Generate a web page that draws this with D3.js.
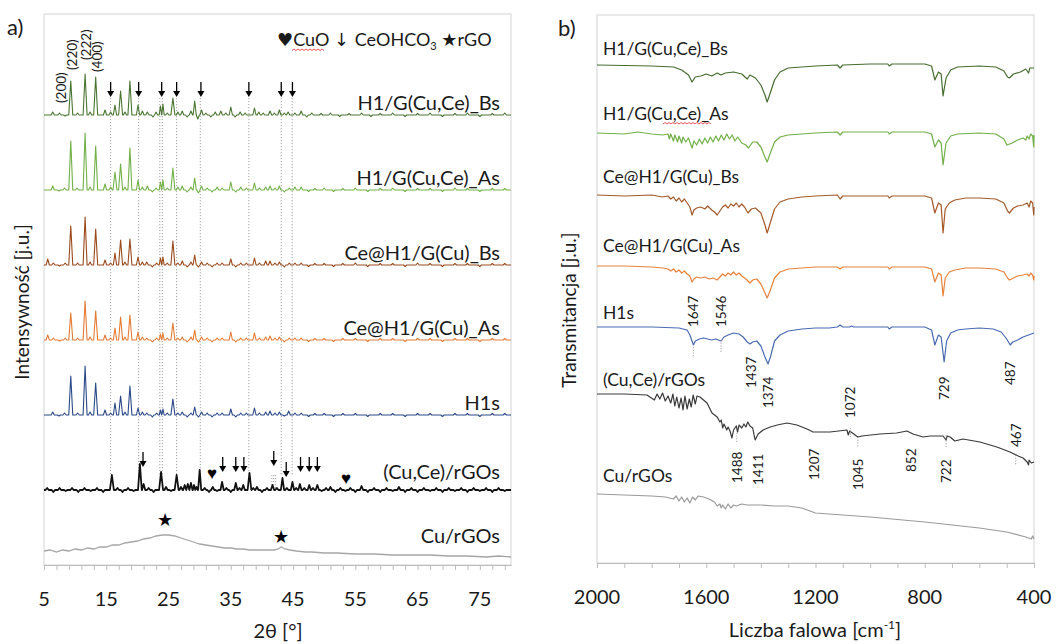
<!DOCTYPE html>
<html><head><meta charset="utf-8">
<script src="https://cdn.jsdelivr.net/npm/d3@7"></script>
<style>body{margin:0;background:#fff;} text{font-family:Lato,"Open Sans",sans-serif;fill:#1a1a1a;}</style>
</head><body><svg id="c" width="1058" height="644"></svg>
<script>
// ---------------- DATA ----------------
const seriesNames = ["H1/G(Cu,Ce)_Bs","H1/G(Cu,Ce)_As","Ce@H1/G(Cu)_Bs","Ce@H1/G(Cu)_As","H1s","(Cu,Ce)/rGOs","Cu/rGOs"];
const xrdColors = ["#4a7632","#72b048","#9b4a1c","#e47c36","#2b4989","#111111","#a6a6a6"];
const ftirColors = ["#466d2f","#72b048","#a55a2a","#e8823c","#4a6bb3","#3a3a3a","#9a9a9a"];
const xrdOffsets = [450,375,300,225,150,75,0];
const ftirOffsets = [498,430,368,297,236,169,69];

// XRD peaks [2theta, intensity above baseline]
const xrdBs = [[6.4,3],[7.5,2],[8.4,-1],[9.3,34],[10.4,2],[11.6,41],[12.4,3],[13.3,38],[14.8,5],[15.7,3],[16.4,10],[17.3,24],[18.0,3],[18.8,34],[20.1,10],[20.8,4],[21.6,3],[22.5,-2],[23.0,3],[23.7,9],[24.1,11],[24.8,2],[25.7,17],[26.5,3],[27.2,4],[28.0,-2],[28.6,4],[29.2,14],[29.7,-4],[30.3,5],[31.0,2],[31.8,-2],[32.5,3],[33.4,4],[34.2,2],[35.0,8],[35.7,-2],[36.5,3],[37.3,2],[38.8,7],[39.5,3],[40.2,2],[41.3,4],[42.0,2],[42.8,5],[43.6,2],[44.2,3],[45.3,2],[46.3,4],[47.2,-2],[48.0,2],[49.5,1.5],[51,2],[52.5,-1.5],[54,1.5],[56,2],[57.5,-1.5],[59,1.5],[61,2],[63,-1.5],[65,1.5],[67,2],[69,-1.5],[71,1.5],[73,2],[75,-1.5],[77,1.5],[79,2]];
const xrdAs = [[6.4,4],[7.4,-1],[8.3,2],[9.3,49],[10.3,2],[11.6,57],[12.4,3],[13.3,44],[14.8,6],[15.7,3],[16.4,18],[17.3,26],[18.0,3],[18.8,42],[20.1,10],[20.8,3],[21.6,4],[22.4,-2],[23.0,2],[23.7,8],[24.1,10],[24.8,2],[25.7,22],[26.5,3],[27.2,4],[28.0,-2],[28.6,3],[29.2,12],[29.8,-3],[30.3,4],[31.2,2],[32.0,-2],[32.8,3],[33.6,2],[35.0,8],[35.8,-2],[36.6,3],[37.5,2],[38.8,7],[39.6,2],[40.6,3],[41.3,4],[42.1,2],[42.8,4],[43.6,-2],[44.4,2],[45.3,3],[46.3,3],[47.5,-1.5],[48.5,1.5],[50,2],[51.5,-1.5],[53,1.5],[55,2],[57,-1.5],[59,1.5],[61,2],[63,-1.5],[65,1.5],[67,1.5],[69,-1.5],[71,2],[73,1.5],[75,-1.5],[77,1.5],[79,1.5]];
const xrdCeBs = [[5.6,6],[6.5,2],[7.5,-1],[8.4,2],[9.3,39],[10.4,2],[11.6,48],[12.4,3],[13.3,36],[14.8,5],[15.7,2],[16.4,12],[17.3,25],[18.0,3],[18.8,26],[20.1,8],[20.8,3],[21.5,3],[22.4,-2],[23.1,2],[23.7,7],[24.1,8],[24.8,2],[25.7,24],[26.5,2],[27.2,4],[28.0,-2],[28.6,3],[29.2,10],[29.8,-2],[30.3,3],[31.2,2],[32.0,-2],[32.8,2],[33.6,2],[35.0,6],[35.8,-2],[36.6,2],[37.5,2],[38.8,7],[39.6,2],[40.6,4],[41.3,4],[42.1,2],[42.8,3],[43.6,-2],[44.4,2],[45.3,2],[46.3,2],[47.5,-1.5],[48.5,1.5],[50,1.5],[51.5,-1.5],[53,1.5],[55,2],[57,-1.5],[59,1.5],[61,1.5],[63,-1.5],[65,2],[67,1.5],[69,-1.5],[71,1.5],[73,1.5],[75,-1.5],[77,1.5],[79,1.5]];
const xrdCeAs = [[5.6,5],[6.5,2],[7.5,-1],[8.4,2],[9.3,27],[10.4,2],[11.6,39],[12.4,3],[13.3,29],[14.8,5],[15.7,2],[16.4,12],[17.3,23],[18.0,3],[18.8,25],[20.1,8],[20.8,3],[21.5,2],[22.4,-2],[23.1,2],[23.7,6],[24.1,7],[24.8,2],[25.7,17],[26.5,2],[27.2,3],[28.0,-2],[28.6,3],[29.2,10],[29.8,-2],[30.3,3],[31.2,2],[32.0,-2],[32.8,2],[33.6,2],[35.0,8],[35.8,-2],[36.6,2],[37.5,2],[38.8,7],[39.6,2],[40.6,3],[41.3,4],[42.1,2],[42.8,3],[43.6,-2],[44.4,2],[45.3,2],[46.3,2],[47.5,-1.5],[48.5,1.5],[50,1.5],[51.5,-1.5],[53,1.5],[55,1.5],[57,-1.5],[59,1.5],[61,1.5],[63,-1.5],[65,1.5],[67,1.5],[69,-1.5],[71,1.5],[73,1.5],[75,-1.5],[77,1.5],[79,1.5]];
const xrdH1s = [[6.4,3],[7.4,-1],[8.3,2],[9.3,39],[10.4,2],[11.6,49],[12.4,3],[13.3,32],[14.8,5],[15.7,2],[16.4,12],[17.3,19],[18.0,3],[18.8,29],[20.1,7],[20.8,3],[21.5,2],[22.4,-2],[23.1,2],[23.7,5],[24.1,6],[24.8,2],[25.7,16],[26.5,2],[27.2,3],[28.0,-2],[28.6,2],[29.2,8],[29.8,-2],[30.3,3],[31.2,2],[32.0,-2],[32.8,2],[33.6,2],[35.0,6],[35.8,-2],[36.6,2],[37.5,2],[38.8,7],[39.6,2],[40.6,3],[41.3,4],[42.1,2],[42.8,3],[43.6,-1],[44.3,4],[45.3,2],[46.3,2],[47.5,-1.5],[48.5,1.5],[50,1.5],[51.5,-1.5],[53,1.5],[55,1.5],[57,-1.5],[59,1.5],[61,1.5],[63,-1.5],[65,1.5],[67,1.5],[69,-1.5],[71,1.5],[73,1.5],[75,-1.5],[77,1.5],[79,1.5]];
const xrdCuCe = [[5.5,2],[6.5,-2],[7.5,2],[8.5,-1],[9.5,2],[10.5,-2],[11.5,2],[12.5,-1],[13.5,2],[14.5,-2],[15.9,15],[16.8,2],[17.6,-2],[18.5,2],[19.4,-1],[20.4,26],[21.0,6],[21.8,2],[22.6,-2],[23.8,18],[24.6,3],[25.4,-1],[26.3,15],[27.0,3],[27.6,5],[28.1,6],[28.6,7],[29.1,5],[29.5,3],[30.0,20],[30.8,2],[31.5,-2],[32.1,3],[32.8,-1],[33.6,8],[34.3,2],[35.0,-2],[35.8,7],[36.4,2],[37.0,5],[38.0,17],[38.6,2],[39.2,3],[40.0,-2],[40.8,2],[41.7,5],[42.4,2],[43.3,12],[44.0,2],[44.9,8],[45.5,2],[46.1,6],[46.8,2],[47.6,5],[48.2,2],[48.9,5],[49.6,-1],[50.3,2],[51.0,3],[51.8,-2],[52.6,2],[53.4,-1],[54.2,2],[55.0,-2],[56.0,4],[57,-2],[58,2],[59,-2],[60,2],[61,-1],[62,3],[63,-2],[64,2],[65,-2],[66,2],[67,-1],[68,2],[69,-2],[70,2],[71,-1],[72,2],[73,-2],[74,2],[75,-1],[76,2],[77,-2],[78,2],[79,-1]];
// Cu/rGOs: full profile [2theta, intensity]
const xrdCuRGO = [[5,14],[6,15],[7,13],[8,15],[9,14],[10,16],[11,15],[12,17],[13,16],[14,18],[15,18],[16,20],[17,20],[18,22],[19,23],[20,24],[21,26],[22,27],[23,29],[24,30],[25,30],[26,29],[27,27],[28,25],[29,23],[30,21],[31,20],[32,19],[33,18],[34,17],[35,17],[36,16],[37,16],[38,15],[39,15],[40,15],[41,15],[42,15],[42.6,16],[43.1,18],[43.7,16],[44.5,15],[45.5,14],[47,13],[48,13],[50,12],[52,12],[55,11],[58,11],[61,10],[64,10],[67,10],[70,9],[73,9],[76,8],[78,9],[80,8]];

const xrdTicks = [5,15,25,35,45,55,65,75];
const millerLabels = [["(200)",7.7,462],["(220)",9.5,495],["(222)",11.7,505],["(400)",13.5,493]];
const arrowsTop = [15.7,20.2,23.9,26.3,30.2,37.9,43.1,44.9];
const arrowsCuCe = [[20.9,98],[33.7,93],[35.8,93],[37.1,93],[41.9,99],[43.9,88],[46.2,93],[47.6,93],[48.9,93]];
const heartsCuO = [[32.0,93],[53.5,88]];
const starsRGO = [[24.5,46],[43.0,29]];
const refLines = [15.7,20.2,23.6,24.0,26.3,30.1,37.9,43.1,44.85];
const shortRefLines = [41.6,41.9,42.2];

// FTIR [wavenumber, absorption depth below baseline]
const ftirBs = [[2000,0],[1800,1],[1720,2],[1690,5],[1665,10],[1652,17],[1640,12],[1620,11],[1600,9],[1580,11],[1560,8],[1546,10],[1530,8],[1500,7],[1470,9],[1450,14],[1440,10],[1420,13],[1400,20],[1385,30],[1377,37],[1368,30],[1350,15],[1330,7],[1300,3],[1200,1],[1120,0],[1110,3],[1100,0],[1000,-1],[935,-1],[930,1],[920,-1],[800,-1],[775,1],[763,15],[750,7],[740,9],[733,31],[722,13],[705,5],[680,2],[600,1],[540,2],[510,6],[497,12],[490,13],[475,9],[450,7],[430,4],[420,8],[415,3],[400,3]];
const ftirAs = [[2000,0],[1900,1],[1850,-1],[1800,1],[1760,2],[1740,1],[1735,6],[1730,1],[1720,8],[1715,2],[1705,9],[1700,3],[1690,10],[1685,4],[1675,9],[1665,5],[1652,15],[1645,8],[1635,12],[1625,6],[1615,11],[1605,5],[1595,10],[1585,4],[1575,9],[1565,3],[1555,8],[1545,2],[1535,7],[1525,1],[1515,6],[1505,2],[1495,8],[1485,4],[1470,10],[1455,12],[1445,15],[1430,9],[1415,9],[1400,14],[1385,24],[1377,29],[1368,22],[1350,9],[1330,4],[1300,2],[1200,0],[1120,-1],[1110,2],[1100,-1],[1000,-1],[935,-1],[930,1],[920,-1],[800,-1],[775,1],[763,14],[750,7],[740,10],[733,32],[722,10],[705,3],[680,1],[600,0],[540,1],[510,6],[499,12],[480,10],[460,7],[440,5],[430,7],[425,3],[418,6],[412,1],[405,3],[401,14],[400,2]];
const ftirCeBs = [[2000,0],[1900,1],[1800,0],[1760,2],[1740,1],[1730,4],[1720,2],[1710,6],[1700,3],[1690,7],[1680,4],[1670,8],[1660,12],[1652,20],[1645,15],[1635,13],[1620,12],[1605,14],[1595,11],[1580,15],[1570,17],[1560,20],[1550,16],[1540,12],[1530,10],[1520,13],[1510,9],[1500,11],[1490,8],[1480,12],[1470,9],[1460,12],[1447,18],[1435,14],[1420,13],[1400,18],[1385,30],[1377,38],[1368,30],[1350,14],[1330,7],[1300,4],[1250,2],[1200,1],[1120,0],[1110,4],[1100,1],[1000,1],[935,1],[930,3],[920,1],[800,1],[775,3],[763,18],[750,8],[740,10],[733,38],[725,14],[710,8],[690,5],[650,3],[600,3],[540,4],[510,8],[497,16],[490,18],[475,13],[460,11],[440,10],[425,8],[418,12],[412,6],[405,8],[401,20],[400,12]];
const ftirCeAs = [[2000,0],[1900,0],[1800,1],[1760,2],[1740,3],[1730,5],[1720,3],[1710,6],[1700,4],[1690,7],[1680,5],[1670,8],[1660,10],[1652,16],[1645,13],[1635,11],[1620,12],[1605,11],[1590,13],[1575,12],[1560,14],[1550,11],[1540,8],[1530,10],[1520,7],[1510,9],[1500,6],[1490,9],[1480,7],[1470,10],[1455,13],[1440,17],[1430,14],[1415,13],[1400,18],[1385,27],[1377,32],[1368,26],[1350,12],[1330,6],[1300,3],[1250,2],[1200,1],[1120,1],[1110,3],[1100,1],[1000,1],[935,1],[930,3],[920,1],[800,1],[775,3],[763,16],[750,7],[740,9],[733,30],[725,12],[710,6],[690,4],[650,2],[600,2],[540,3],[510,6],[497,12],[490,14],[475,12],[460,10],[440,9],[425,8],[418,10],[412,7],[405,9],[401,14],[400,10]];
const ftirH1s = [[2000,0],[1900,0],[1800,0],[1700,1],[1670,3],[1660,8],[1647,18],[1640,14],[1625,12],[1610,11],[1595,12],[1580,13],[1565,12],[1546,14],[1535,10],[1520,8],[1500,6],[1480,7],[1465,10],[1450,15],[1440,17],[1430,15],[1415,14],[1400,19],[1385,30],[1374,37],[1365,30],[1350,14],[1330,8],[1300,4],[1250,2],[1200,1],[1150,1],[1120,0],[1110,-2],[1100,0],[1075,0],[1068,-1],[1060,0],[1000,0],[935,0],[930,2],[920,0],[800,0],[775,3],[763,18],[750,8],[740,10],[729,35],[720,14],[705,6],[680,3],[650,2],[600,1],[550,2],[520,5],[500,12],[487,18],[478,15],[460,13],[440,10],[420,8],[400,6]];
const ftirCuCe = [[2000,0],[1900,0],[1817,1],[1790,6],[1780,0],[1770,5],[1760,-1],[1750,7],[1740,2],[1730,9],[1722,0],[1715,12],[1708,3],[1700,14],[1692,4],[1685,16],[1678,2],[1670,15],[1662,5],[1655,13],[1648,1],[1640,10],[1634,2],[1623,3],[1597,9],[1579,19],[1560,23],[1550,28],[1545,26],[1540,34],[1535,30],[1525,36],[1520,33],[1513,37],[1506,44],[1500,36],[1490,32],[1485,38],[1480,31],[1470,34],[1462,30],[1455,33],[1448,28],[1440,32],[1430,34],[1421,46],[1410,40],[1392,36],[1366,33],[1340,31],[1304,29],[1268,31],[1231,35],[1209,38],[1147,38],[1085,36],[1080,41],[1075,37],[1060,40],[1045,43],[1030,42],[964,40],[903,39],[865,37],[843,40],[806,43],[781,42],[733,42],[722,46],[718,42],[707,43],[690,47],[660,45],[598,48],[536,53],[488,58],[458,62],[440,64],[425,68],[420,71],[418,66],[410,69],[400,68]];
const ftirCuRGO = [[2000,0],[1900,1],[1800,2],[1750,3],[1720,5],[1710,2],[1700,7],[1690,3],[1680,8],[1670,4],[1660,9],[1650,3],[1640,6],[1630,2],[1610,3],[1590,5],[1570,8],[1560,12],[1550,10],[1545,14],[1540,11],[1530,15],[1520,10],[1510,14],[1500,11],[1490,12],[1470,10],[1450,11],[1400,11],[1350,12],[1300,12],[1250,14],[1220,17],[1200,19],[1150,20],[1000,23],[800,28],[600,34],[500,38],[430,43],[410,45],[405,42],[400,45]];

const ftirTicks = [2000,1600,1200,800,400];
const ftirLabels = [[1647,236],[1546,236],[1437,175],[1374,155],[729,163],[487,178],[1072,145],[1488,80],[1411,78],[1207,83],[1045,73],[852,91],[722,80],[467,116]];
const ftirMarks = [[1647,216,205],[1546,223,211],[1488,133,120],[1072,135,126],[1045,126,116],[722,128,116],[467,108,98]];

// ---------------- DRAW ----------------
const svg = d3.select("#c");
const frameCol = "#d4d4d4";

// Panel a
const xA = d3.scaleLinear().domain([5,80]).range([44,511]);
const yA = d3.scaleLinear().domain([0,551]).range([565,14]);
const gA = svg.append("g");
gA.append("rect").attr("x",44).attr("y",14).attr("width",467).attr("height",551).attr("fill","none").attr("stroke",frameCol);

refLines.forEach(t=>{
  gA.append("line").attr("x1",xA(t)).attr("x2",xA(t)).attr("y1",yA(467)).attr("y2",yA(90))
    .attr("stroke","#8a8a8a").attr("stroke-width",0.8).attr("stroke-dasharray","1.2,1.8");
});
shortRefLines.forEach(t=>{
  gA.append("line").attr("x1",xA(t)).attr("x2",xA(t)).attr("y1",yA(90)).attr("y2",yA(76))
    .attr("stroke","#8a8a8a").attr("stroke-width",0.8).attr("stroke-dasharray","1.2,1.8");
});

function peakPoints(peaks){
  const p = peaks.slice().sort((a,b)=>a[0]-b[0]);
  const pts=[[5,0]];
  p.forEach((d,i)=>{
    const prev = i>0 ? p[i-1][0] : 4, next = i<p.length-1 ? p[i+1][0] : 81;
    const hw = Math.min(Math.abs(d[1])>14?0.32:0.26,(d[0]-prev)/2,(next-d[0])/2);
    pts.push([d[0]-hw,0],[d[0],d[1]],[d[0]+hw,0]);
  });
  pts.push([80,0]);
  return pts;
}
const xrdSets = [xrdBs,xrdAs,xrdCeBs,xrdCeAs,xrdH1s,xrdCuCe];
const lineA = d3.line().x(d=>xA(d[0])).y(d=>yA(d[1]));
xrdSets.forEach((s,i)=>{
  const off = xrdOffsets[i];
  gA.append("path").datum(peakPoints(s).map(d=>[d[0],d[1]+off]))
    .attr("d",lineA).attr("fill","none").attr("stroke",xrdColors[i])
    .attr("stroke-width", i===5?1.8:1.1).attr("stroke-linejoin","round");
});
gA.append("path").datum(xrdCuRGO.map(d=>[d[0],d[1]+xrdOffsets[6]])).attr("d",lineA)
  .attr("fill","none").attr("stroke",xrdColors[6]).attr("stroke-width",1.3);

const labA = [5,5,5,5,5,11,22];
seriesNames.forEach((n,i)=>{
  gA.append("text").attr("x",500).attr("y",yA(xrdOffsets[i]+labA[i])).attr("text-anchor","end")
    .attr("font-size",20).text(n);
});
millerLabels.forEach(m=>{
  gA.append("text").attr("transform",`translate(${xA(m[1])},${yA(m[2])}) rotate(-90)`)
    .attr("dominant-baseline","central").attr("font-size",13.5).text(m[0]);
});
function arrow(g,x,yTip){
  g.append("line").attr("x1",x).attr("x2",x).attr("y1",yTip-15).attr("y2",yTip-4).attr("stroke","#000").attr("stroke-width",1.3);
  g.append("path").attr("d",`M${x-3.5},${yTip-6}L${x+3.5},${yTip-6}L${x},${yTip}Z`).attr("fill","#000");
}
arrowsTop.forEach(t=>arrow(gA,xA(t),yA(468)));
arrowsCuCe.forEach(d=>arrow(gA,xA(d[0]),yA(d[1])));
heartsCuO.forEach(d=>{
  gA.append("text").attr("x",xA(d[0])).attr("y",yA(d[1])).attr("text-anchor","middle").attr("dominant-baseline","central")
    .attr("font-family","DejaVu Sans").attr("font-size",17).style("fill","#000").text("♥");
});
starsRGO.forEach(d=>{
  gA.append("text").attr("x",xA(d[0])).attr("y",yA(d[1])).attr("text-anchor","middle").attr("dominant-baseline","central")
    .attr("font-family","DejaVu Sans").attr("font-size",18).style("fill","#000").text("★");
});
const leg = gA.append("text").attr("x",277).attr("y",46).attr("font-size",18);
leg.append("tspan").attr("font-family","DejaVu Sans").text("♥");
leg.append("tspan").text("CuO ");
leg.append("tspan").attr("font-family","DejaVu Sans").text(" ↓ ");
leg.append("tspan").text("CeOHCO");
leg.append("tspan").attr("font-size",11).attr("dy",4).text("3");
leg.append("tspan").attr("dy",-4).text(" ");
leg.append("tspan").attr("font-family","DejaVu Sans").text("★");
leg.append("tspan").text("rGO");
gA.append("path").attr("d","M292,50.5 l2,-1.5 l2,1.5 l2,-1.5 l2,1.5 l2,-1.5 l2,1.5 l2,-1.5 l2,1.5 l2,-1.5 l2,1.5 l2,-1.5 l2,1.5 l2,-1.5 l2,1.5 l2,-1.5 l2,1.5")
  .attr("fill","none").attr("stroke","#e03030").attr("stroke-width",0.8);

const axA = d3.axisBottom(xA).tickValues(d3.range(5,80,2)).tickSize(5).tickSizeOuter(0).tickFormat("");
const gAx = gA.append("g").attr("transform","translate(0,565)").call(axA);
gAx.selectAll("path,line").attr("stroke","#bdbdbd");
xrdTicks.forEach(t=>gA.append("text").attr("x",xA(t)).attr("y",606).attr("text-anchor","middle").attr("font-size",20).text(t));
gA.append("text").attr("x",278).attr("y",638).attr("text-anchor","middle").attr("font-size",20).text("2θ [°]");
gA.append("text").attr("transform","translate(29,302) rotate(-90)").attr("text-anchor","middle").attr("font-size",19).text("Intensywność [j.u.]");
gA.append("text").attr("x",7).attr("y",35).attr("font-size",22).text("a)");

// Panel b
const xB = d3.scaleLinear().domain([2000,400]).range([597,1034]);
const yB = d3.scaleLinear().domain([0,548]).range([563,15]);
const gB = svg.append("g");
gB.append("rect").attr("x",597).attr("y",15).attr("width",437).attr("height",548).attr("fill","none").attr("stroke",frameCol);
const ftirSets = [ftirBs,ftirAs,ftirCeBs,ftirCeAs,ftirH1s,ftirCuCe,ftirCuRGO];
const lineB = d3.line().x(d=>xB(d[0])).y(d=>yB(d[1]));
ftirSets.forEach((s,i)=>{
  gB.append("path").datum(s.map(d=>[d[0],ftirOffsets[i]-d[1]])).attr("d",lineB)
    .attr("fill","none").attr("stroke",ftirColors[i]).attr("stroke-width",1.2).attr("stroke-linejoin","round");
});
const labB = [10,13,12,14,8,8,12];
seriesNames.forEach((n,i)=>{
  gB.append("text").attr("x",603).attr("y",yB(ftirOffsets[i]+labB[i])).attr("font-size",17.5).text(n);
});
gB.append("path").attr("d","M663,124 l2,-1.5 l2,1.5 l2,-1.5 l2,1.5 l2,-1.5 l2,1.5 l2,-1.5 l2,1.5 l2,-1.5 l2,1.5 l2,-1.5 l2,1.5 l2,-1.5 l2,1.5 l2,-1.5 l2,1.5 l2,-1.5 l2,1.5 l2,-1.5 l2,1.5 l2,-1.5 l2,1.5 l2,-1.5 l2,1.5")
  .attr("fill","none").attr("stroke","#e03030").attr("stroke-width",0.8);
ftirMarks.forEach(m=>{
  gB.append("line").attr("x1",xB(m[0])).attr("x2",xB(m[0])).attr("y1",yB(m[1])).attr("y2",yB(m[2]))
    .attr("stroke","#8a8a8a").attr("stroke-width",0.8).attr("stroke-dasharray","1.2,1.5");
});
ftirLabels.forEach(l=>{
  gB.append("text").attr("transform",`translate(${xB(l[0])},${yB(l[1])}) rotate(-90)`)
    .attr("dominant-baseline","central").attr("font-size",13.5).text(l[0]);
});
const axB = d3.axisBottom(xB).tickValues(d3.range(400,2001,100)).tickSize(5).tickSizeOuter(0).tickFormat("");
const gBx = gB.append("g").attr("transform","translate(0,563)").call(axB);
gBx.selectAll("path,line").attr("stroke","#bdbdbd");
ftirTicks.forEach(t=>gB.append("text").attr("x",xB(t)).attr("y",604).attr("text-anchor","middle").attr("font-size",20).text(t));
const tB = gB.append("text").attr("x",815).attr("y",637).attr("text-anchor","middle").attr("font-size",20);
tB.append("tspan").text("Liczba falowa [cm");
tB.append("tspan").attr("font-size",12).attr("dy",-8).text("-1");
tB.append("tspan").attr("dy",8).text("]");
gB.append("text").attr("transform","translate(576,310) rotate(-90)").attr("text-anchor","middle").attr("font-size",19).text("Transmitancja [j.u.]");
gB.append("text").attr("x",558).attr("y",36).attr("font-size",22).text("b)");
</script></body></html>
